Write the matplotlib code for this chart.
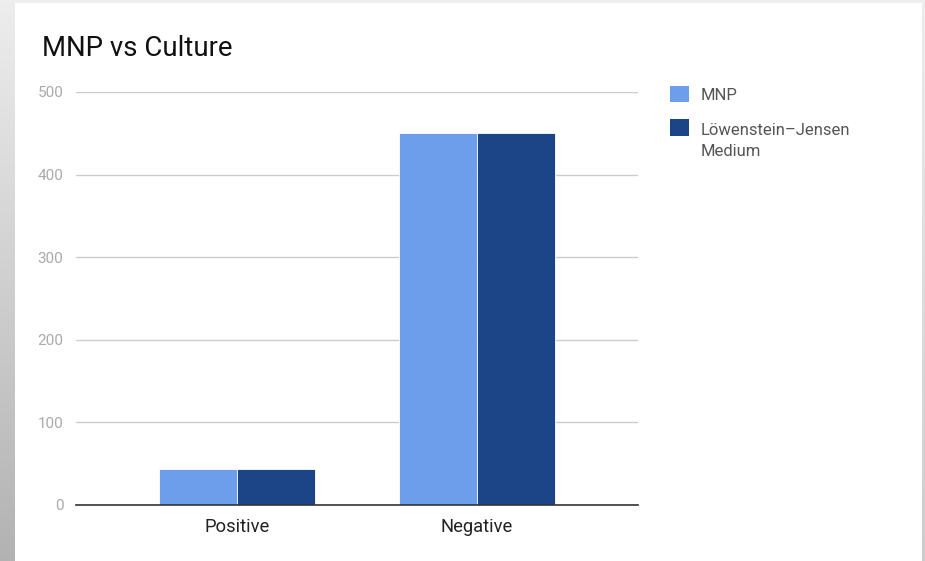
import numpy as np
import matplotlib
matplotlib.use("Agg")
import matplotlib.pyplot as plt
from matplotlib.patches import Patch, Rectangle
from matplotlib.legend_handler import HandlerPatch

categories = ["Positive", "Negative"]
series_names = ["MNP", "Löwenstein–Jensen\nMedium"]
mnp_values = [43, 450]
lj_values = [43, 450]
y_ticks = [0, 100, 200, 300, 400, 500]
colors = ["#6d9eeb", "#1c4587"]

plt.rcParams["font.family"] = ["Roboto", "DejaVu Sans"]

W, H = 925, 561
fig = plt.figure(figsize=(W / 100, H / 100), dpi=100)
fig.patch.set_facecolor("white")

# page background around the card
bg = fig.add_axes([0, 0, 1, 1], zorder=-10)
bg.axis("off")
grad = np.linspace(0.93, 0.70, 256).reshape(-1, 1)
bg.imshow(np.dstack([grad] * 3), extent=(0, 15, H, 0), aspect="auto")
bg.add_patch(Rectangle((0, 0), W, 3, color="#eeeeee", lw=0))
bg.imshow(np.dstack([np.linspace(0.93, 0.80, 256).reshape(-1, 1)] * 3),
          extent=(922, W, H, 0), aspect="auto")
bg.set_xlim(0, W)
bg.set_ylim(H, 0)

# plot area: x 76..638, y 92..505 (pixels)
left, right, top, bottom = 76, 638, 92, 505
ax = fig.add_axes([left / W, 1 - bottom / H, (right - left) / W, (bottom - top) / H])
ax.set_facecolor("none")

x = np.arange(len(categories))
bw = 0.322
ax.bar(x - bw / 2 - 0.002, mnp_values, width=bw, color=colors[0], edgecolor="white",
       linewidth=0.6, zorder=3)
ax.bar(x + bw / 2 + 0.002, lj_values, width=bw, color=colors[1], edgecolor="white",
       linewidth=0.6, zorder=3)

ax.set_xlim(-0.671, 1.671)
ax.set_ylim(0, 500)
ax.set_yticks(y_ticks)
ax.set_yticklabels([str(v) for v in y_ticks], color="#aaaaaa", fontsize=11)
ax.grid(axis="y", color="#cccccc", linewidth=1, zorder=0)
ax.set_xticks(x)
ax.set_xticklabels(categories, fontsize=13.2, color="#222222")
ax.tick_params(axis="both", length=0)
ax.tick_params(axis="y", pad=9)
ax.tick_params(axis="x", pad=9)
for s in ["top", "right", "left"]:
    ax.spines[s].set_visible(False)
ax.spines["bottom"].set_color("#333333")
ax.spines["bottom"].set_linewidth(1.2)
ax.spines["bottom"].set_zorder(4)

fig.text(42 / W, 1 - 48 / H, "MNP vs Culture", fontsize=19.8, color="#111111",
         ha="left", va="center")


class TopAlignedSquare(HandlerPatch):
    """Square swatch aligned with the first line of a multi-line label."""

    def __init__(self, lines_below=0, line_step=10.0):
        super().__init__()
        self.shift = lines_below * line_step

    def create_artists(self, legend, orig_handle, xdescent, ydescent, width,
                       height, fontsize, trans):
        r = Rectangle((-xdescent, -ydescent + self.shift), width, height,
                      facecolor=orig_handle.get_facecolor(), edgecolor="none",
                      transform=trans)
        return [r]


handles = [Patch(facecolor=c, edgecolor="none") for c in colors]
handler_map = {handles[0]: TopAlignedSquare(0),
               handles[1]: TopAlignedSquare(series_names[1].count("\n"))}
leg = fig.legend(handles, series_names, loc="upper left", handler_map=handler_map,
                 bbox_to_anchor=(655 / W, 1 - 71 / H), frameon=False,
                 fontsize=12, handlelength=1.12, handleheight=1.12,
                 handletextpad=0.72, labelspacing=1.22, alignment="left")
for t in leg.get_texts():
    t.set_color("#555555")
    t.set_linespacing(1.48)

fig.savefig("out.png", dpi=100)
